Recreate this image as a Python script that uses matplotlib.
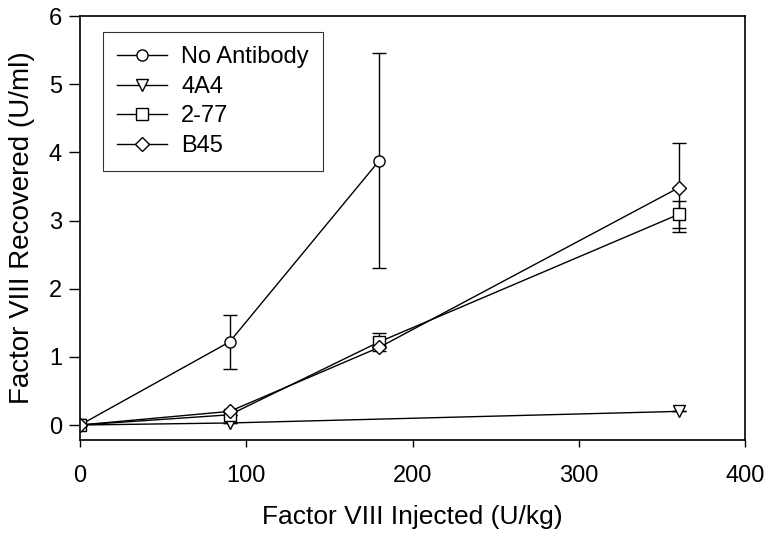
import matplotlib
matplotlib.use('Agg')
import matplotlib.pyplot as plt
from matplotlib.lines import Line2D

plt.rcParams['font.family'] = ['Liberation Sans', 'DejaVu Sans']

# 数据
dose = [0, 90, 180, 360]

no_ab_x = [0, 90, 180]
no_ab_y = [0.0, 1.22, 3.88]
no_ab_err = [0.0, 0.40, 1.58]

a4a4_x = [0, 90, 360]
a4a4_y = [0.0, 0.03, 0.20]
a4a4_err = [0.0, 0.0, 0.0]

m277_y = [0.0, 0.15, 1.22, 3.09]
m277_err = [0.0, 0.0, 0.13, 0.20]

b45_y = [0.0, 0.20, 1.14, 3.48]
b45_err = [0.0, 0.0, 0.0, 0.65]

series = [
    ('No Antibody', no_ab_x, no_ab_y, no_ab_err, 'o'),
    ('4A4', a4a4_x, a4a4_y, a4a4_err, 'v'),
    ('2-77', dose, m277_y, m277_err, 's'),
    ('B45', dose, b45_y, b45_err, 'D'),
]

fig = plt.figure(figsize=(7.69, 5.34), dpi=100)
ax = fig.add_axes([0.104, 0.176, 0.865, 0.794])

handles = []
for name, xs, ys, err, mk in series:
    ms = 7 if mk == 'D' else 8
    style = dict(color='black', lw=1.0, marker=mk, markersize=ms,
                 markerfacecolor='white', markeredgecolor='black',
                 markeredgewidth=1.0)
    ax.errorbar(xs, ys, yerr=err, capsize=5, elinewidth=1.0, capthick=1.0,
                **style)
    handles.append(Line2D([], [], label=name, **style))

ax.set_xlim(0, 400)
ax.set_ylim(-0.22, 6)
ax.set_xticks([0, 100, 200, 300, 400])
ax.set_yticks([0, 1, 2, 3, 4, 5, 6])
ax.tick_params(axis='both', direction='out', labelsize=17, width=1.0)
ax.tick_params(axis='x', length=5, pad=13)
ax.tick_params(axis='y', length=8, pad=5)
for s in ax.spines.values():
    s.set_linewidth(1.2)

ax.set_xlabel('Factor VIII Injected (U/kg)', fontsize=19, labelpad=13)
ax.set_ylabel('Factor VIII Recovered (U/ml)', fontsize=20, labelpad=10)

leg = ax.legend(handles=handles, loc='upper left',
                bbox_to_anchor=(0.035, 0.962), fontsize=17,
                frameon=True, fancybox=False, edgecolor='black',
                handlelength=2.1, borderpad=0.6, labelspacing=0.32,
                handletextpad=0.6, borderaxespad=0)
leg.get_frame().set_linewidth(0.8)

fig.savefig('out.png', dpi=100)
